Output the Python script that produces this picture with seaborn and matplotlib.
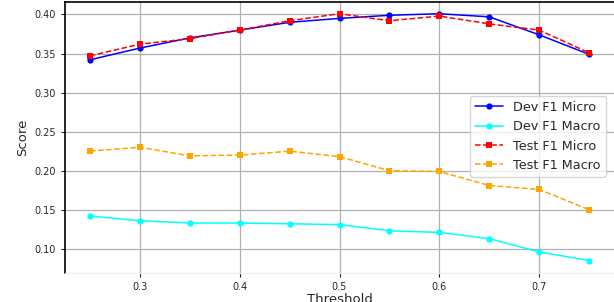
import matplotlib
matplotlib.use("Agg")
import matplotlib.pyplot as plt
import numpy as np
import pandas as pd
import seaborn as sns

# values
thresholds = [0.25, 0.30, 0.35, 0.40, 0.45, 0.50, 0.55, 0.60, 0.65, 0.70, 0.75]
dev_f1_micro = [0.342, 0.357, 0.370, 0.380, 0.390, 0.395, 0.399, 0.401, 0.397, 0.374, 0.349]
dev_f1_macro = [0.142, 0.136, 0.133, 0.133, 0.132, 0.131, 0.123, 0.121, 0.113, 0.096, 0.085]
test_f1_micro = [0.347, 0.362, 0.369, 0.380, 0.392, 0.401, 0.392, 0.398, 0.388, 0.380, 0.351]
test_f1_macro = [0.225, 0.230, 0.219, 0.220, 0.225, 0.218, 0.200, 0.199, 0.181, 0.176, 0.150]

sns.set_style("ticks")
plt.rcParams['font.family'] = ['DejaVu Sans']

fig = plt.figure(figsize=(6.14, 3.02), dpi=100)
ax = fig.add_axes([65/614, 29/302, 549/614, 271/302])

series = [
    ("Dev F1 Micro", dev_f1_micro, "blue", "-", "o", 4.5),
    ("Dev F1 Macro", dev_f1_macro, "cyan", "-", "o", 4.5),
    ("Test F1 Micro", test_f1_micro, "red", "--", "s", 5),
    ("Test F1 Macro", test_f1_macro, "orange", "--", "s", 5),
]
for name, vals, col, ls, mk, ms in series:
    df = pd.DataFrame({"Threshold": thresholds, "Score": vals})
    sns.lineplot(data=df, x="Threshold", y="Score", ax=ax, color=col,
                 linestyle=ls, marker=mk, markersize=ms, markeredgewidth=0,
                 linewidth=1.1, label=name)

ax.set_xlim(0.225, 0.775)
ax.set_ylim(0.069, 0.416)
ax.set_xticks([0.3, 0.4, 0.5, 0.6, 0.7])
ax.set_yticks([0.10, 0.15, 0.20, 0.25, 0.30, 0.35, 0.40])
ax.yaxis.set_major_formatter(matplotlib.ticker.FormatStrFormatter('%.2f'))
ax.tick_params(labelsize=7, length=3, width=0.8)
ax.grid(True, color="#b0b0b0", linewidth=0.9)
ax.set_xlabel("Threshold", fontsize=9.5, labelpad=0.5)
ax.set_ylabel("Score", fontsize=9.5, labelpad=4)
for s in ["left", "top"]:
    ax.spines[s].set_color("black")
    ax.spines[s].set_linewidth(1.2)
ax.spines["bottom"].set_color("#eeeeee")
ax.spines["right"].set_visible(False)

ax.legend(loc="lower right", bbox_to_anchor=(1 - 8/549, 96/271),
          borderaxespad=0, fontsize=9.2, framealpha=0.8, edgecolor="#cccccc",
          handlelength=2.2)

fig.savefig("out.png", dpi=100)
